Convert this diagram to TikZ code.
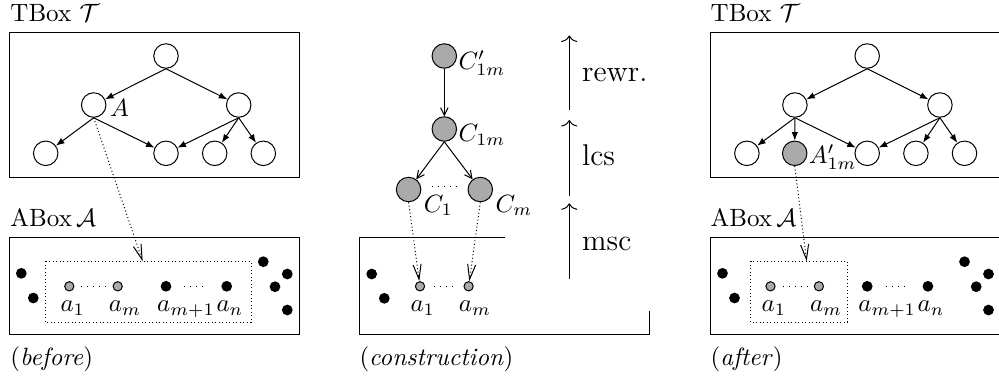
\documentclass[tikz,border=0pt]{standalone}
\usetikzlibrary{arrows.meta}
\definecolor{nodegrey}{RGB}{170,170,170}
\begin{document}
\begin{tikzpicture}[x=0.4pt,y=-0.4pt,
  tnode/.style={circle,draw,inner sep=0pt,minimum size=9.8pt},
  gnode/.style={tnode,fill=nodegrey},
  bdot/.style={circle,fill=black,inner sep=0pt,minimum size=4.3pt},
  gdot/.style={circle,draw,fill=nodegrey,inner sep=0pt,minimum size=3.7pt},
  tarrow/.style={-{Latex[length=3.4pt,width=2.6pt]}},
  oarrow/.style={-{Straight Barb[length=3pt,width=3pt]}},
  darrow/.style={densely dotted,-{Straight Barb[length=6pt,width=3.2pt]}},
  varrow/.style={-{To[length=2.6pt,width=6.5pt]}},
  lab/.style={anchor=base west,inner sep=0pt},
  sidelab/.style={lab,font=\large},
  dline/.style={dotted,shorten <=2.8pt,shorten >=2.8pt},
  dlinel/.style={dotted,shorten <=5pt,shorten >=5pt}
]
\useasboundingbox (0,0) rectangle (999,382);
\clip (0,0) rectangle (999,382);

% ---------------- left panel (before) ----------------
\node[lab] (Lttl) at (10,21.5) {TBox $\mathcal{T}$};
\draw (9,32.3) rectangle (299,177);
\node[tnode] (Lt) at (166,56) {};
\node[tnode] (Ll1) at (93.7,105) {};
\node[tnode] (Ll2) at (238.7,105) {};
\node[tnode] (Lb1) at (45.7,153.3) {};
\node[tnode] (Lb2) at (166,153.3) {};
\node[tnode] (Lb3) at (214.7,153.3) {};
\node[tnode] (Lb4) at (263.3,153.3) {};
\node[lab] (LA) at (109.5,116.5) {$A$};
\draw[tarrow] (Lt.south) -- (Ll1);
\draw[tarrow] (Lt.south) -- (Ll2);
\draw[tarrow] (Ll1.south) -- (Lb1);
\draw[tarrow] (Ll1.south) -- (Lb2);
\draw[tarrow] (Ll2.south) -- (Lb2);
\draw[tarrow] (Ll2.south) -- (Lb3);
\draw[tarrow] (Ll2.south) -- (Lb4);

\node[lab] (Lattl) at (10,226) {ABox\,$\mathcal{A}$};
\draw (9,237.7) rectangle (299,334.3);
\draw[densely dotted] (45.3,261.3) rectangle (251,322.3);
\coordinate (Ltgt) at (142.7,261.3);
\draw[darrow] (Ll1.south) -- (Ltgt);
\node[bdot] (Lx1) at (21.3,273.3) {};
\node[bdot] (Lx2) at (33.3,298) {};
\node[bdot] (Lx3) at (263.3,261.7) {};
\node[bdot] (Lx4) at (287.3,274) {};
\node[bdot] (Lx5) at (275,286.7) {};
\node[bdot] (Lx6) at (287.3,310) {};
\node[gdot] (La1) at (69.3,286.3) {};
\node[gdot] (Lam) at (117.7,286.3) {};
\node[bdot] (Lan1) at (166,286.3) {};
\node[bdot] (Lan) at (226.7,286.3) {};
\draw[dline] (La1) -- (Lam);
\draw[dlinel] (Lan1) -- (Lan);
\node[lab] (La1l) at (60,311.7) {$a_1$};
\node[lab] (Laml) at (108.3,311.7) {$a_m$};
\node[lab] (Lan1l) at (156.7,311.7) {$a_{m+1}$};
\node[lab] (Lanl) at (216,311.7) {$a_n$};
\node[lab] (Lcap) at (10,365) {(\textit{before})};

% ---------------- middle panel (construction) ----------------
\node[gnode] (Mcp) at (444.3,56) {};
\node[gnode] (Mc) at (444.3,129) {};
\node[gnode] (Mc1) at (408.6,189.5) {};
\node[gnode] (Mcm) at (480.3,189.5) {};
\node[lab] (Mcpl) at (458,69.3) {$C'_{1m}$};
\node[lab] (Mcl) at (458,141.7) {$C_{1m}$};
\node[lab] (Mc1l) at (423.3,212) {$C_1$};
\node[lab] (Mcml) at (495,212) {$C_m$};
\draw[oarrow] (Mcp.south) -- (Mc);
\draw[oarrow] (Mc.south) -- (Mc1);
\draw[oarrow] (Mc.south) -- (Mcm);
\draw[dotted,shorten <=4.4pt,shorten >=4.4pt] ([yshift=1.2pt]Mc1.east) -- ([yshift=1.2pt]Mcm.west);

\draw (505,237.7) -- (359.3,237.7) -- (359.3,334.3) -- (649.6,334.3) -- (649.6,310.7);
\node[bdot] (Mx1) at (371.7,274) {};
\node[bdot] (Mx2) at (384.3,298.3) {};
\node[gdot] (Ma1) at (420,286.3) {};
\node[gdot] (Mam) at (468.6,286.3) {};
\draw[dotted,shorten <=3.5pt,shorten >=3.5pt] (Ma1) -- (Mam);
\draw[darrow] (Mc1.south) -- (Ma1);
\draw[darrow] (Mcm.south) -- (Mam);
\node[lab] (Ma1l) at (410,311.7) {$a_1$};
\node[lab] (Maml) at (458.3,311.7) {$a_m$};
\node[lab] (Mcap) at (359,365) {(\textit{construction})};

\coordinate (R1s) at (569.3,110);
\coordinate (R1e) at (569.3,35.5);
\coordinate (R2s) at (569.3,196);
\coordinate (R2e) at (569.3,120);
\coordinate (R3s) at (569.3,279.3);
\coordinate (R3e) at (569.3,203.3);
\draw[varrow] (R1s) -- (R1e);
\draw[varrow] (R2s) -- (R2e);
\draw[varrow] (R3s) -- (R3e);
\node[sidelab] (Rl1) at (581.7,81.7) {rewr.};
\node[sidelab] (Rl2) at (581.7,165) {lcs};
\node[sidelab] (Rl3) at (581.7,250) {msc};

% ---------------- right panel (after) ----------------
\begin{scope}[shift={(701.2,0)}]
\node[lab] (Sttl) at (9,21.5) {TBox $\mathcal{T}$};
\draw (9,32.3) rectangle (299,177);
\node[tnode] (St) at (166,56) {};
\node[tnode] (Sl1) at (93.7,105) {};
\node[tnode] (Sl2) at (238.7,105) {};
\node[tnode] (Sb1) at (45.7,153.3) {};
\node[gnode] (Sg) at (93.5,153.3) {};
\node[tnode] (Sb2) at (166,153.3) {};
\node[tnode] (Sb3) at (214.7,153.3) {};
\node[tnode] (Sb4) at (263.3,153.3) {};
\node[lab] (SA) at (107.1,163.3) {$A'_{1m}$};
\draw[tarrow] (St.south) -- (Sl1);
\draw[tarrow] (St.south) -- (Sl2);
\draw[tarrow] (Sl1.south) -- (Sb1);
\draw[tarrow] (Sl1.south) -- (Sg);
\draw[tarrow] (Sl1.south) -- (Sb2);
\draw[tarrow] (Sl2.south) -- (Sb2);
\draw[tarrow] (Sl2.south) -- (Sb3);
\draw[tarrow] (Sl2.south) -- (Sb4);

\node[lab] (Sattl) at (9,226) {ABox\,$\mathcal{A}$};
\draw (9,237.7) rectangle (299,334.3);
\draw[densely dotted] (49.5,261.3) rectangle (146.1,322.3);
\coordinate (Stgt) at (105.5,261.3);
\draw[darrow] (Sg.south) -- (Stgt);
\node[bdot] (Sx1) at (21.3,273.3) {};
\node[bdot] (Sx2) at (33.3,298) {};
\node[bdot] (Sx3) at (263.3,261.7) {};
\node[bdot] (Sx4) at (287.3,274) {};
\node[bdot] (Sx5) at (275,286.7) {};
\node[bdot] (Sx6) at (287.3,310) {};
\node[gdot] (Sa1) at (69.3,286.3) {};
\node[gdot] (Sam) at (117.7,286.3) {};
\node[bdot] (San1) at (166,286.3) {};
\node[bdot] (San) at (226.7,286.3) {};
\draw[dline] (Sa1) -- (Sam);
\draw[dlinel] (San1) -- (San);
\node[lab] (Sa1l) at (60,311.7) {$a_1$};
\node[lab] (Saml) at (108.3,311.7) {$a_m$};
\node[lab] (San1l) at (156.7,311.7) {$a_{m+1}$};
\node[lab] (Sanl) at (216,311.7) {$a_n$};
\node[lab] (Scap) at (9,365) {(\textit{after})};
\end{scope}
\end{tikzpicture}
\end{document}
